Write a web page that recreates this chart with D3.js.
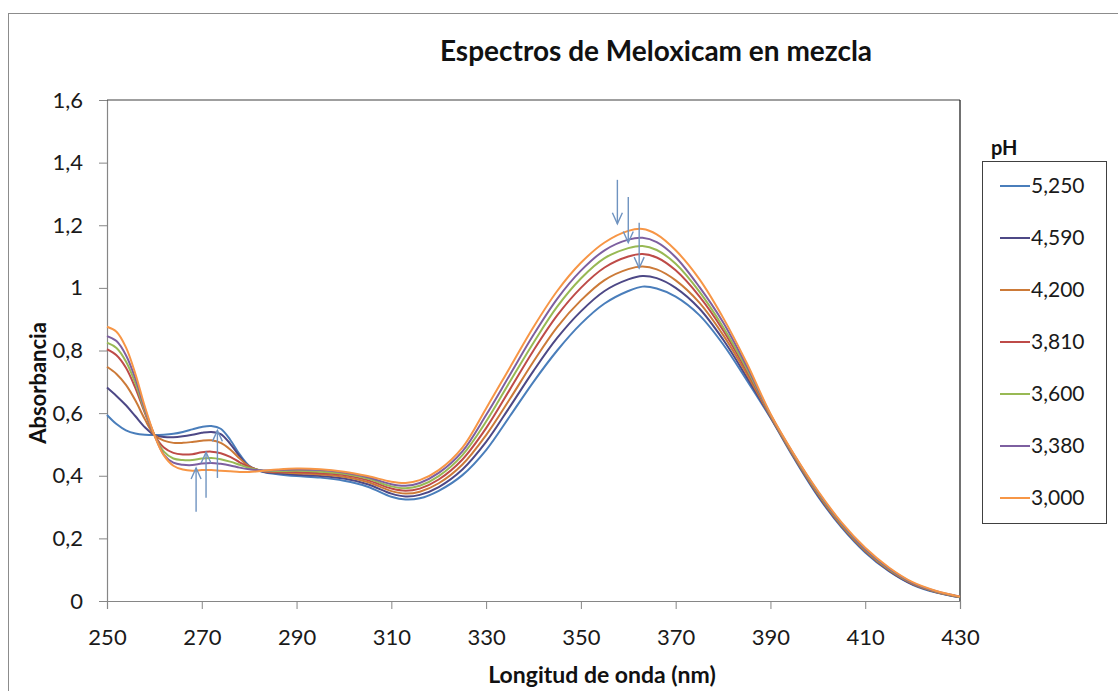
<!DOCTYPE html>
<html>
<head>
<meta charset="utf-8">
<script src="https://cdn.jsdelivr.net/npm/d3@7"></script>
<style>
  body { margin: 0; background: #fff; }
  svg { display: block; font-family: Lato, "Open Sans", sans-serif; }
</style>
</head>
<body>
<div id="chart"></div>
<script>
// wavelength grid (nm), shared by every spectrum
var wavelengths = [250,252,254,256,258,260,262,264,266,268,270,272,274,276,278,280,283,286,290,295,
                   300,305,310,313,316,320,325,330,335,340,345,350,355,360,363,366,370,375,380,385,
                   390,395,400,405,410,415,420,425,430];

var pH5250 = [0.594,0.565,0.545,0.535,0.531,0.530,0.531,0.534,0.540,0.548,0.556,0.559,0.550,0.515,0.468,0.432,0.412,0.405,0.399,0.394,
              0.384,0.365,0.333,0.324,0.328,0.352,0.402,0.482,0.590,0.700,0.800,0.885,0.950,0.990,1.004,0.998,0.972,0.913,0.820,0.705,
              0.585,0.455,0.335,0.235,0.155,0.095,0.052,0.027,0.012];
var pH4590 = [0.682,0.655,0.625,0.590,0.555,0.530,0.524,0.523,0.526,0.531,0.537,0.540,0.533,0.502,0.462,0.430,0.413,0.408,0.403,0.399,
              0.391,0.373,0.343,0.334,0.339,0.364,0.420,0.508,0.620,0.735,0.840,0.925,0.990,1.027,1.038,1.031,1.000,0.934,0.835,0.715,
              0.588,0.458,0.338,0.238,0.158,0.097,0.053,0.028,0.012];
var pH4200 = [0.748,0.725,0.690,0.640,0.580,0.530,0.512,0.505,0.505,0.508,0.512,0.513,0.505,0.484,0.455,0.430,0.414,0.411,0.408,0.404,
              0.397,0.380,0.351,0.343,0.349,0.376,0.436,0.530,0.645,0.765,0.875,0.960,1.025,1.060,1.068,1.059,1.024,0.953,0.850,0.725,
              0.590,0.460,0.341,0.240,0.160,0.099,0.055,0.029,0.013];
var pH3810 = [0.804,0.785,0.745,0.680,0.600,0.530,0.490,0.473,0.468,0.469,0.475,0.477,0.472,0.460,0.443,0.428,0.415,0.413,0.412,0.408,
              0.402,0.386,0.359,0.352,0.359,0.388,0.452,0.552,0.675,0.800,0.912,1.000,1.065,1.100,1.108,1.097,1.056,0.973,0.865,0.735,
              0.592,0.462,0.344,0.243,0.162,0.101,0.056,0.030,0.013];
var pH3600 = [0.825,0.808,0.765,0.695,0.605,0.530,0.477,0.455,0.450,0.450,0.455,0.457,0.453,0.445,0.435,0.425,0.416,0.415,0.416,0.413,
              0.406,0.391,0.366,0.360,0.368,0.399,0.466,0.573,0.700,0.825,0.940,1.030,1.095,1.127,1.134,1.121,1.077,0.988,0.875,0.742,
              0.594,0.464,0.346,0.245,0.164,0.102,0.057,0.030,0.013];
var pH3380 = [0.846,0.830,0.785,0.710,0.612,0.530,0.467,0.442,0.435,0.434,0.439,0.441,0.438,0.433,0.426,0.421,0.417,0.418,0.420,0.418,
              0.410,0.395,0.373,0.368,0.377,0.409,0.478,0.594,0.722,0.850,0.965,1.055,1.120,1.154,1.160,1.146,1.098,1.003,0.890,0.750,
              0.596,0.466,0.349,0.248,0.166,0.104,0.058,0.031,0.014];
var pH3000 = [0.876,0.860,0.810,0.725,0.620,0.530,0.465,0.432,0.420,0.416,0.418,0.418,0.416,0.414,0.412,0.412,0.416,0.420,0.423,0.421,
              0.413,0.399,0.381,0.377,0.386,0.418,0.490,0.615,0.745,0.875,0.990,1.080,1.145,1.182,1.188,1.171,1.120,1.028,0.905,0.760,
              0.598,0.468,0.352,0.251,0.170,0.107,0.060,0.032,0.014];

var seriesNames = ['5,250','4,590','4,200','3,810','3,600','3,380','3,000'];
var seriesValues = [pH5250, pH4590, pH4200, pH3810, pH3600, pH3380, pH3000];
var seriesColors = ['#4A7EBB','#4D4886','#CC7A38','#BE4B48','#98B954','#7D5FA0','#F79646'];

var xTicks = [250,270,290,310,330,350,370,390,410,430];
var yTicks = [0,0.2,0.4,0.6,0.8,1,1.2,1.4,1.6];

// arrows drawn on the chart: [wavelength, from absorbance, to absorbance]
var upArrows   = [[268.8,0.285,0.425],[270.9,0.330,0.475],[273.3,0.393,0.545]];
var downArrows = [[357.7,1.345,1.205],[360.0,1.290,1.145],[362.3,1.208,1.063]];

var width = 1118, height = 691;
var plot = {left: 107, top: 100, right: 960, bottom: 601};

var svg = d3.select('#chart').append('svg')
    .attr('width', width)
    .attr('height', height);

// outer chart border
svg.append('rect')
    .attr('x', 8.5).attr('y', 13.5)
    .attr('width', 1130).attr('height', 700)
    .attr('fill', '#fff')
    .attr('stroke', '#8c8c8c');

var x = d3.scaleLinear().domain([250, 430]).range([plot.left, plot.right]);
var y = d3.scaleLinear().domain([0, 1.6]).range([plot.bottom, plot.top]);

var fmt = function(d){ return d3.format('')(d).replace('.', ','); };

//axes
var yAxis = svg.append('g')
    .attr('transform', 'translate(' + plot.left + ',0)')
    .call(d3.axisLeft(y).tickValues(yTicks).tickSize(8).tickPadding(16).tickFormat(fmt));
var xAxis = svg.append('g')
    .attr('transform', 'translate(0,' + plot.bottom + ')')
    .call(d3.axisBottom(x).tickValues(xTicks).tickSize(8).tickPadding(20));

[xAxis, yAxis].forEach(function(a){
    a.select('.domain').attr('stroke', '#868686').attr('stroke-width', 1.2);
    a.selectAll('.tick line').attr('stroke', '#868686');
    a.selectAll('.tick text')
        .attr('fill', '#1a1a1a')
        .style('font-family', 'Lato, sans-serif')
        .style('font-size', '22px');
});

// top and right edges of the plot area
svg.append('line')
    .attr('x1', plot.left).attr('x2', plot.right)
    .attr('y1', plot.top).attr('y2', plot.top)
    .attr('stroke', '#404040').attr('stroke-width', 1.2);
svg.append('line')
    .attr('x1', plot.right).attr('x2', plot.right)
    .attr('y1', plot.top).attr('y2', plot.bottom)
    .attr('stroke', '#111').attr('stroke-width', 1.2);

// spectra
var line = d3.line()
    .x(function(d){ return x(d[0]); })
    .y(function(d){ return y(d[1]); })
    .curve(d3.curveCatmullRom.alpha(0.5));

svg.append('g').selectAll('path')
    .data(seriesValues)
    .enter()
        .append('path')
        .attr('fill', 'none')
        .attr('stroke', function(d, i){ return seriesColors[i]; })
        .attr('stroke-width', 2)
        .attr('d', function(vals){
            return line(wavelengths.map(function(w, j){ return [w, vals[j]]; }));
        });

// arrows
var arrows = svg.append('g')
    .attr('stroke', '#6f93c0')
    .attr('stroke-width', 1.4)
    .attr('fill', 'none');
upArrows.concat(downArrows).forEach(function(a){
    var ax = x(a[0]), y0 = y(a[1]), y1 = y(a[2]);
    var dir = y1 < y0 ? 1 : -1;
    arrows.append('line')
        .attr('x1', ax).attr('x2', ax)
        .attr('y1', y0).attr('y2', y1);
    arrows.append('path')
        .attr('d', 'M' + (ax - 5) + ',' + (y1 + dir * 11) + 'L' + ax + ',' + y1 + 'L' + (ax + 5) + ',' + (y1 + dir * 11));
});

// titles
svg.append('text')
    .attr('x', 656).attr('y', 61)
    .attr('text-anchor', 'middle')
    .style('font-size', '28px')
    .style('font-weight', 'bold')
    .attr('fill', '#111')
    .text('Espectros de Meloxicam en mezcla');

svg.append('text')
    .attr('x', 602).attr('y', 683)
    .attr('text-anchor', 'middle')
    .style('font-size', '23px')
    .style('font-weight', 'bold')
    .attr('fill', '#111')
    .text('Longitud de onda (nm)');

svg.append('text')
    .attr('transform', 'translate(46,383) rotate(-90)')
    .attr('text-anchor', 'middle')
    .style('font-size', '22px')
    .style('font-weight', 'bold')
    .attr('fill', '#111')
    .text('Absorbancia');

// legend
svg.append('text')
    .attr('x', 991).attr('y', 155)
    .style('font-size', '20px')
    .style('font-weight', 'bold')
    .attr('fill', '#111')
    .text('pH');

svg.append('rect')
    .attr('x', 982.5).attr('y', 161.5)
    .attr('width', 124).attr('height', 362)
    .attr('fill', 'none')
    .attr('stroke', '#404040');

var legend = svg.append('g').selectAll('g')
    .data(seriesNames)
    .enter()
        .append('g')
        .attr('transform', function(d, i){ return 'translate(0,' + (186 + i * 52) + ')'; });
legend.append('line')
    .attr('x1', 1000).attr('x2', 1030)
    .attr('stroke', function(d, i){ return seriesColors[i]; })
    .attr('stroke-width', 2);
legend.append('text')
    .attr('x', 1031).attr('dy', '0.35em')
    .style('font-size', '21px')
    .attr('fill', '#1a1a1a')
    .text(function(d){ return d; });
</script>
</body>
</html>
